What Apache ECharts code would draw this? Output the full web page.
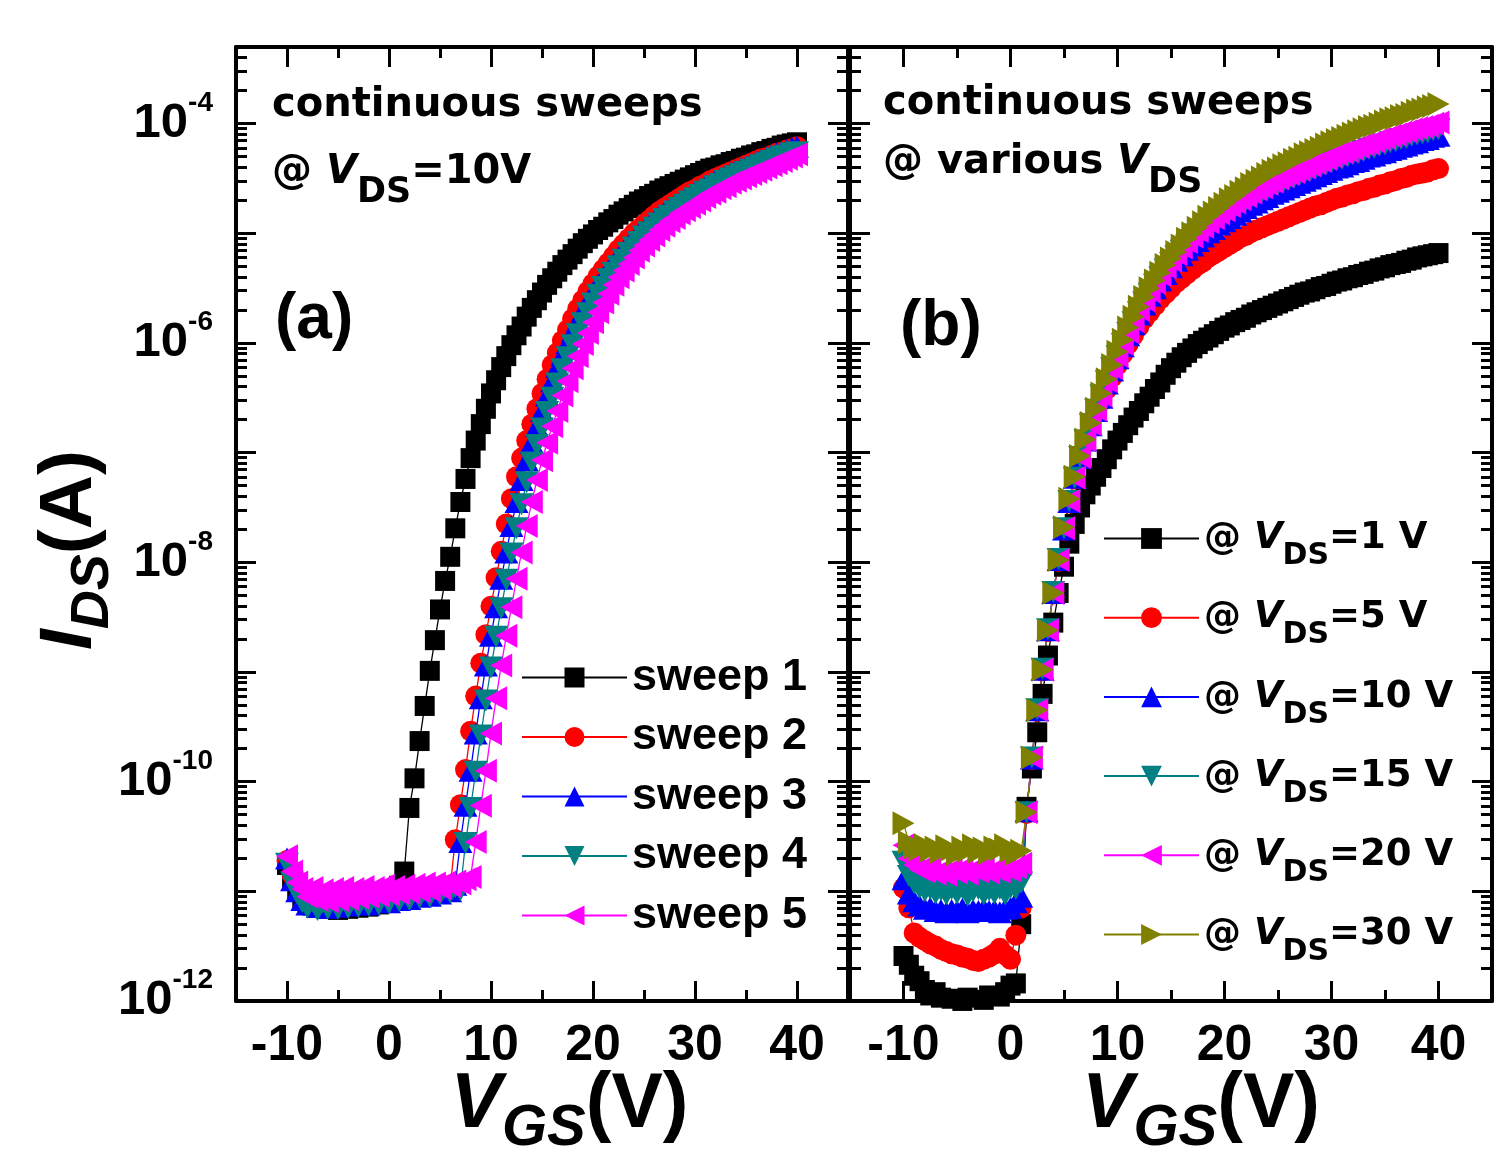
<!DOCTYPE html>
<html>
<head>
<meta charset="utf-8">
<script src="https://cdn.jsdelivr.net/npm/echarts@6/dist/echarts.min.js"></script>
<style>
html, body { margin: 0; padding: 0; background: #fff; }
#main { width: 1494px; height: 1153px; }
</style>
</head>
<body>
<div id="main"></div>
<script>
// gate voltage steps (V), shared by every sweep
var VGS = [
  -10, -9.5, -9, -8.5, -8, -7.5, -7, -6.5, -6, -5.5,
  -5, -4.5, -4, -3.5, -3, -2.5, -2, -1.5, -1, -0.5,
  0, 0.5, 1, 1.5, 2, 2.5, 3, 3.5, 4, 4.5,
  5, 5.5, 6, 6.5, 7, 7.5, 8, 8.5, 9, 9.5,
  10, 10.5, 11, 11.5, 12, 12.5, 13, 13.5, 14, 14.5,
  15, 15.5, 16, 16.5, 17, 17.5, 18, 18.5, 19, 19.5,
  20, 20.5, 21, 21.5, 22, 22.5, 23, 23.5, 24, 24.5,
  25, 25.5, 26, 26.5, 27, 27.5, 28, 28.5, 29, 29.5,
  30, 30.5, 31, 31.5, 32, 32.5, 33, 33.5, 34, 34.5,
  35, 35.5, 36, 36.5, 37, 37.5, 38, 38.5, 39, 39.5,
  40
];

// panel (a): log10(IDS / A), continuous sweeps at VDS = 10 V
var sweep1 = [
  -10.76, -10.90, -10.99, -11.06, -11.10, -11.13, -11.15, -11.14, -11.16, -11.15,
  -11.17, -11.14, -11.16, -11.13, -11.15, -11.12, -11.14, -11.11, -11.12, -11.09,
  -11.10, -11.06, -10.95, -10.82, -10.24, -9.97, -9.63, -9.31, -8.99, -8.71,
  -8.43, -8.17, -7.95, -7.69, -7.45, -7.24, -7.05, -6.89, -6.74, -6.60,
  -6.46, -6.34, -6.22, -6.12, -6.02, -5.93, -5.85, -5.76, -5.68, -5.61,
  -5.54, -5.47, -5.41, -5.35, -5.29, -5.24, -5.19, -5.14, -5.09, -5.05,
  -5.01, -4.97, -4.94, -4.90, -4.87, -4.83, -4.80, -4.77, -4.74, -4.71,
  -4.69, -4.66, -4.64, -4.61, -4.59, -4.57, -4.55, -4.53, -4.51, -4.49,
  -4.47, -4.45, -4.43, -4.41, -4.40, -4.38, -4.37, -4.35, -4.34, -4.32,
  -4.31, -4.29, -4.28, -4.26, -4.25, -4.23, -4.22, -4.20, -4.19, -4.18,
  -4.17
];
var sweep2 = [
  -10.72, -10.85, -10.93, -10.98, -11.04, -11.02, -11.08, -11.05, -11.10, -11.06,
  -11.09, -11.04, -11.10, -11.05, -11.08, -11.03, -11.07, -11.02, -11.06, -11.01,
  -11.05, -11.00, -11.04, -10.99, -11.03, -10.98, -11.02, -10.97, -11.01, -10.96,
  -11.00, -10.95, -10.96, -10.53, -10.21, -9.89, -9.54, -9.22, -8.92, -8.66,
  -8.40, -8.14, -7.90, -7.65, -7.42, -7.22, -7.05, -6.89, -6.74, -6.60,
  -6.46, -6.33, -6.20, -6.09, -5.98, -5.88, -5.78, -5.69, -5.61, -5.53,
  -5.46, -5.39, -5.33, -5.27, -5.21, -5.15, -5.10, -5.05, -5.00, -4.96,
  -4.92, -4.88, -4.84, -4.80, -4.77, -4.74, -4.71, -4.68, -4.65, -4.62,
  -4.60, -4.57, -4.55, -4.52, -4.50, -4.48, -4.46, -4.44, -4.42, -4.40,
  -4.38, -4.36, -4.34, -4.32, -4.31, -4.29, -4.27, -4.26, -4.24, -4.23,
  -4.21
];
var sweep3 = [
  -10.70, -10.90, -11.00, -11.08, -11.12, -11.06, -11.14, -11.08, -11.15, -11.07,
  -11.14, -11.06, -11.13, -11.05, -11.12, -11.04, -11.12, -11.03, -11.10, -11.02,
  -11.10, -11.01, -11.08, -11.00, -11.07, -10.99, -11.05, -10.98, -11.04, -10.97,
  -11.02, -10.96, -11.00, -10.94, -10.55, -10.22, -9.90, -9.56, -9.24, -8.94,
  -8.67, -8.41, -8.15, -7.91, -7.67, -7.45, -7.25, -7.07, -6.91, -6.76,
  -6.62, -6.48, -6.35, -6.22, -6.11, -6.00, -5.90, -5.80, -5.71, -5.62,
  -5.54, -5.47, -5.40, -5.34, -5.28, -5.22, -5.16, -5.11, -5.06, -5.01,
  -4.97, -4.93, -4.89, -4.85, -4.81, -4.78, -4.75, -4.72, -4.69, -4.66,
  -4.63, -4.60, -4.57, -4.55, -4.52, -4.50, -4.48, -4.45, -4.43, -4.41,
  -4.39, -4.37, -4.35, -4.33, -4.31, -4.29, -4.27, -4.26, -4.24, -4.22,
  -4.21
];
var sweep4 = [
  -10.75, -10.92, -11.02, -11.10, -11.15, -11.09, -11.17, -11.10, -11.16, -11.08,
  -11.16, -11.07, -11.15, -11.06, -11.14, -11.05, -11.13, -11.04, -11.12, -11.03,
  -11.11, -11.02, -11.09, -11.01, -11.08, -11.00, -11.06, -10.99, -11.05, -10.98,
  -11.03, -10.97, -11.01, -10.96, -10.99, -10.56, -10.24, -9.91, -9.58, -9.26,
  -8.96, -8.68, -8.42, -8.16, -7.92, -7.69, -7.47, -7.27, -7.09, -6.93,
  -6.78, -6.63, -6.50, -6.37, -6.24, -6.13, -6.02, -5.92, -5.82, -5.73,
  -5.64, -5.56, -5.49, -5.42, -5.36, -5.30, -5.24, -5.18, -5.13, -5.08,
  -5.03, -4.99, -4.95, -4.91, -4.87, -4.84, -4.80, -4.77, -4.74, -4.71,
  -4.68, -4.65, -4.62, -4.60, -4.57, -4.55, -4.52, -4.50, -4.48, -4.46,
  -4.44, -4.42, -4.40, -4.38, -4.36, -4.34, -4.32, -4.30, -4.29, -4.27,
  -4.26
];
var sweep5 = [
  -10.68, -10.82, -10.92, -10.98, -11.05, -10.97, -11.08, -10.99, -11.09, -10.98,
  -11.08, -10.97, -11.07, -10.98, -11.06, -10.96, -11.05, -10.97, -11.04, -10.95,
  -11.03, -10.96, -11.02, -10.95, -11.01, -10.94, -11.00, -10.93, -10.99, -10.93,
  -10.97, -10.92, -10.95, -10.91, -10.93, -10.89, -10.87, -10.55, -10.22, -9.90,
  -9.56, -9.24, -8.94, -8.67, -8.41, -8.15, -7.91, -7.67, -7.45, -7.25,
  -7.07, -6.91, -6.76, -6.62, -6.48, -6.35, -6.23, -6.12, -6.01, -5.91,
  -5.81, -5.72, -5.63, -5.55, -5.47, -5.40, -5.34, -5.28, -5.22, -5.16,
  -5.11, -5.06, -5.02, -4.97, -4.93, -4.89, -4.86, -4.82, -4.79, -4.76,
  -4.73, -4.70, -4.67, -4.64, -4.62, -4.59, -4.57, -4.54, -4.52, -4.50,
  -4.48, -4.46, -4.44, -4.42, -4.40, -4.38, -4.36, -4.34, -4.32, -4.30,
  -4.28
];

// panel (b): log10(IDS / A) at various VDS
var vds1 = [
  -11.59, -11.67, -11.77, -11.82, -11.90, -11.95, -11.92, -11.97, -12.02, -11.98,
  -12.05, -12.00, -11.97, -12.03, -12.06, -11.99, -11.95, -12.02, -11.96, -11.92,
  -11.86, -11.84, -11.30, -10.23, -9.88, -9.55, -9.20, -8.85, -8.55, -8.28,
  -8.04, -7.83, -7.65, -7.50, -7.38, -7.30, -7.22, -7.14, -7.06, -6.97,
  -6.89, -6.82, -6.75, -6.68, -6.62, -6.55, -6.49, -6.42, -6.36, -6.29,
  -6.23, -6.18, -6.13, -6.09, -6.05, -6.01, -5.98, -5.95, -5.92, -5.89,
  -5.86, -5.84, -5.81, -5.79, -5.77, -5.74, -5.72, -5.70, -5.68, -5.66,
  -5.64, -5.62, -5.60, -5.58, -5.56, -5.54, -5.53, -5.51, -5.49, -5.48,
  -5.46, -5.44, -5.43, -5.41, -5.40, -5.38, -5.37, -5.35, -5.34, -5.32,
  -5.31, -5.29, -5.28, -5.27, -5.25, -5.24, -5.22, -5.21, -5.20, -5.19,
  -5.18
];
var vds5 = [
  -10.97, -11.15, -11.38, -11.42, -11.45, -11.48, -11.50, -11.53, -11.55, -11.57,
  -11.58, -11.60, -11.61, -11.63, -11.64, -11.62, -11.60, -11.57, -11.52, -11.58,
  -11.62, -11.40, -11.15, -10.29, -9.80, -9.36, -8.99, -8.63, -8.29, -7.99,
  -7.71, -7.46, -7.24, -7.06, -6.91, -6.77, -6.64, -6.53, -6.42, -6.31,
  -6.20, -6.10, -6.01, -5.93, -5.85, -5.78, -5.72, -5.66, -5.60, -5.55,
  -5.50, -5.45, -5.41, -5.37, -5.33, -5.29, -5.26, -5.22, -5.19, -5.16,
  -5.13, -5.10, -5.07, -5.04, -5.02, -4.99, -4.97, -4.95, -4.93, -4.91,
  -4.89, -4.87, -4.85, -4.83, -4.81, -4.79, -4.77, -4.75, -4.74, -4.72,
  -4.70, -4.68, -4.67, -4.65, -4.64, -4.62, -4.61, -4.59, -4.58, -4.56,
  -4.55, -4.53, -4.52, -4.50, -4.49, -4.47, -4.46, -4.45, -4.44, -4.42,
  -4.41
];
var vds10 = [
  -10.89, -11.02, -11.09, -11.13, -11.16, -11.15, -11.18, -11.17, -11.19, -11.17,
  -11.18, -11.16, -11.19, -11.17, -11.18, -11.16, -11.18, -11.17, -11.19, -11.16,
  -11.15, -11.10, -11.05, -10.27, -9.79, -9.35, -8.98, -8.62, -8.28, -7.98,
  -7.70, -7.45, -7.23, -7.05, -6.89, -6.75, -6.62, -6.50, -6.37, -6.25,
  -6.14, -6.03, -5.93, -5.83, -5.74, -5.65, -5.57, -5.50, -5.43, -5.37,
  -5.31, -5.25, -5.20, -5.15, -5.11, -5.07, -5.03, -4.99, -4.96, -4.92,
  -4.89, -4.86, -4.83, -4.80, -4.77, -4.74, -4.72, -4.69, -4.67, -4.64,
  -4.62, -4.60, -4.58, -4.56, -4.54, -4.52, -4.50, -4.48, -4.46, -4.44,
  -4.42, -4.40, -4.39, -4.37, -4.35, -4.34, -4.32, -4.30, -4.29, -4.27,
  -4.26, -4.24, -4.23, -4.21, -4.20, -4.18, -4.17, -4.15, -4.14, -4.12,
  -4.11
];
var vds15 = [
  -10.73, -10.86, -10.93, -10.97, -11.00, -10.98, -11.02, -10.99, -11.03, -10.98,
  -11.02, -10.97, -11.04, -11.00, -10.98, -11.03, -10.99, -11.02, -10.98, -11.03,
  -10.97, -10.98, -10.92, -10.28, -9.78, -9.34, -8.97, -8.61, -8.27, -7.97,
  -7.69, -7.44, -7.23, -7.04, -6.89, -6.74, -6.61, -6.48, -6.35, -6.23,
  -6.12, -6.01, -5.91, -5.81, -5.72, -5.63, -5.55, -5.47, -5.40, -5.33,
  -5.27, -5.21, -5.16, -5.11, -5.06, -5.01, -4.97, -4.93, -4.89, -4.85,
  -4.82, -4.79, -4.76, -4.73, -4.70, -4.67, -4.65, -4.62, -4.60, -4.57,
  -4.55, -4.53, -4.51, -4.49, -4.47, -4.45, -4.43, -4.41, -4.39, -4.37,
  -4.35, -4.33, -4.32, -4.30, -4.28, -4.27, -4.25, -4.23, -4.22, -4.20,
  -4.19, -4.17, -4.16, -4.14, -4.13, -4.11, -4.10, -4.09, -4.08, -4.06,
  -4.05
];
var vds20 = [
  -10.58, -10.70, -10.76, -10.80, -10.82, -10.80, -10.84, -10.81, -10.85, -10.80,
  -10.83, -10.79, -10.84, -10.80, -10.82, -10.78, -10.83, -10.80, -10.82, -10.79,
  -10.81, -10.78, -10.75, -10.28, -9.78, -9.35, -8.98, -8.62, -8.28, -7.98,
  -7.69, -7.44, -7.23, -7.04, -6.89, -6.74, -6.61, -6.48, -6.35, -6.23,
  -6.12, -6.01, -5.90, -5.80, -5.70, -5.61, -5.53, -5.45, -5.38, -5.31,
  -5.25, -5.19, -5.13, -5.08, -5.03, -4.98, -4.94, -4.90, -4.86, -4.82,
  -4.79, -4.75, -4.72, -4.69, -4.66, -4.63, -4.60, -4.58, -4.55, -4.53,
  -4.50, -4.48, -4.46, -4.44, -4.42, -4.40, -4.38, -4.36, -4.34, -4.32,
  -4.30, -4.28, -4.26, -4.25, -4.23, -4.21, -4.19, -4.18, -4.16, -4.14,
  -4.13, -4.11, -4.10, -4.08, -4.07, -4.05, -4.04, -4.03, -4.02, -4.00,
  -3.99
];
var vds30 = [
  -10.38, -10.55, -10.60, -10.62, -10.58, -10.63, -10.60, -10.64, -10.59, -10.62,
  -10.66, -10.60, -10.63, -10.58, -10.64, -10.61, -10.65, -10.60, -10.62, -10.58,
  -10.63, -10.66, -10.63, -10.28, -9.78, -9.35, -8.98, -8.62, -8.28, -7.98,
  -7.68, -7.42, -7.22, -7.03, -6.88, -6.73, -6.60, -6.46, -6.33, -6.20,
  -6.08, -5.97, -5.86, -5.76, -5.67, -5.58, -5.50, -5.43, -5.36, -5.29,
  -5.23, -5.17, -5.11, -5.05, -5.00, -4.95, -4.90, -4.85, -4.81, -4.77,
  -4.73, -4.69, -4.66, -4.62, -4.59, -4.55, -4.52, -4.49, -4.46, -4.43,
  -4.41, -4.38, -4.36, -4.33, -4.31, -4.28, -4.26, -4.24, -4.22, -4.19,
  -4.17, -4.15, -4.13, -4.11, -4.09, -4.07, -4.05, -4.03, -4.02, -4.00,
  -3.98, -3.96, -3.95, -3.93, -3.92, -3.90, -3.88, -3.87, -3.85, -3.84,
  -3.82
];

var X_MAJOR = [-10, 0, 10, 20, 30, 40];
var X_MINOR = [-5, 5, 15, 25, 35];
var Y_LABELS = [1e-12, 1e-10, 1e-8, 1e-6, 1e-4];
var Y_MIN = 0.999e-12, Y_MAX = 5e-4;

// decade ticks and 2..9 minor ticks for the log axis
var Y_MAJOR = [], Y_MINOR = [];
for (var e = -12; e <= -4; e++) {
  Y_MAJOR.push(Math.pow(10, e));
  for (var k = 2; k <= 9; k++) {
    if (k * Math.pow(10, e) <= Y_MAX) Y_MINOR.push(k * Math.pow(10, e));
  }
}

var FONT_ARIAL = "'Liberation Sans', Arial, Helvetica, sans-serif";
var FONT_NARROW = "'Liberation Sans Narrow', 'Arial Narrow', 'Liberation Sans', Arial, sans-serif";
var FONT_DEJAVU = "'DejaVu Sans', Verdana, sans-serif";

var leftSeries = [
  { name: 'sweep 1', logs: sweep1, color: '#000000', symbol: 'rect', size: 20 },
  { name: 'sweep 2', logs: sweep2, color: '#ff0000', symbol: 'circle', size: 21 },
  { name: 'sweep 3', logs: sweep3, color: '#0000ff', symbol: 'triangle', size: [24, 22] },
  { name: 'sweep 4', logs: sweep4, color: '#008080', symbol: 'path://M0,0L10,0L5,10Z', size: [24, 22] },
  { name: 'sweep 5', logs: sweep5, color: '#ff00ff', symbol: 'path://M10,0L10,10L0,5Z', size: [22, 24] }
];
var rightSeries = [
  { name: 'VDS=1 V', logs: vds1, color: '#000000', symbol: 'rect', size: 20 },
  { name: 'VDS=5 V', logs: vds5, color: '#ff0000', symbol: 'circle', size: 21 },
  { name: 'VDS=10 V', logs: vds10, color: '#0000ff', symbol: 'triangle', size: [24, 22] },
  { name: 'VDS=15 V', logs: vds15, color: '#008080', symbol: 'path://M0,0L10,0L5,10Z', size: [24, 22] },
  { name: 'VDS=20 V', logs: vds20, color: '#ff00ff', symbol: 'path://M10,0L10,10L0,5Z', size: [22, 24] },
  { name: 'VDS=30 V', logs: vds30, color: '#808000', symbol: 'path://M0,0L10,5L0,10Z', size: [22, 24] }
];

function toPoints(logs) {
  return VGS.map(function (v, i) { return [v, Math.pow(10, logs[i])]; });
}

function makeSeries(def, axisIndex) {
  return {
    type: 'line',
    name: def.name,
    xAxisIndex: axisIndex,
    yAxisIndex: axisIndex,
    data: toPoints(def.logs),
    symbol: def.symbol,
    symbolSize: def.size,
    showAllSymbol: true,
    itemStyle: { color: def.color },
    lineStyle: { color: def.color, width: 1.3 },
    emphasis: { disabled: true },
    animation: false
  };
}

var axisLineStyle = { show: true, onZero: false, lineStyle: { color: '#000', width: 4 } };
function tickStyle(values, len) {
  return { show: true, inside: true, length: len, customValues: values, lineStyle: { color: '#000', width: 3 } };
}

var titleRich = {
  v: { fontFamily: FONT_ARIAL, fontWeight: 'bold', fontStyle: 'italic', fontSize: 77, color: '#000' },
  s: { fontFamily: FONT_ARIAL, fontWeight: 'bold', fontStyle: 'italic', fontSize: 58, color: '#000', padding: [47, 0, 0, 0] },
  p: { fontFamily: FONT_ARIAL, fontWeight: 'bold', fontSize: 77, color: '#000' }
};

function buildXAxes(gi, shift) {
  var base = { type: 'value', gridIndex: gi, min: -15, max: 45, splitLine: { show: false } };
  return [
    Object.assign({}, base, {
      position: 'bottom',
      axisLine: axisLineStyle,
      axisTick: tickStyle(X_MAJOR, 20),
      axisLabel: {
        show: true, customValues: X_MAJOR, margin: 20, color: '#000',
        fontFamily: FONT_ARIAL, fontWeight: 'bold', fontSize: 50
      },
      name: '{v|V}{s|GS}{p|(V)}',
      nameLocation: 'middle',
      nameGap: 52,
      nameMoveOverlap: false,
      nameTextStyle: { padding: [0, 0, 0, shift], rich: titleRich }
    }),
    Object.assign({}, base, {
      position: 'bottom', axisLine: { show: false, onZero: false },
      axisTick: tickStyle(X_MINOR, 11), axisLabel: { show: false }
    }),
    Object.assign({}, base, {
      position: 'top', axisLine: axisLineStyle,
      axisTick: tickStyle(X_MAJOR, 20), axisLabel: { show: false }
    }),
    Object.assign({}, base, {
      position: 'top', axisLine: { show: false, onZero: false },
      axisTick: tickStyle(X_MINOR, 11), axisLabel: { show: false }
    })
  ];
}

function buildYAxes(gi, withLabels) {
  var base = {
    type: 'log', logBase: 10, gridIndex: gi, min: Y_MIN, max: Y_MAX,
    splitLine: { show: false }, minorTick: { show: false }, minorSplitLine: { show: false }
  };
  var out = [];
  ['left', 'right'].forEach(function (pos) {
    var major = Object.assign({}, base, {
      position: pos, axisLine: axisLineStyle,
      axisTick: tickStyle(Y_MAJOR, 20), axisLabel: { show: false }
    });
    if (pos === 'left' && withLabels) {
      major.axisLabel = {
        show: true, customValues: Y_LABELS, margin: 23,
        formatter: function (v) { return '{b|10}{s|' + Math.round(Math.log10(v)) + '}'; },
        rich: {
          b: { fontFamily: FONT_NARROW, fontWeight: 'bold', fontSize: 49, color: '#000' },
          s: { fontFamily: FONT_NARROW, fontWeight: 'bold', fontSize: 28, color: '#000', padding: [0, 0, 41, 0] }
        }
      };
      major.name = '{v|I}{s|DS}{p|(A)}';
      major.nameLocation = 'middle';
      major.nameRotate = 90;
      major.nameGap = 116;
      major.nameMoveOverlap = false;
      major.nameTextStyle = {
        padding: [0, 52, 0, 0],
        rich: {
          v: { fontFamily: FONT_ARIAL, fontWeight: 'bold', fontStyle: 'italic', fontSize: 75, color: '#000' },
          s: { fontFamily: FONT_ARIAL, fontWeight: 'bold', fontStyle: 'italic', fontSize: 54, color: '#000', padding: [46, 0, 0, 0] },
          p: { fontFamily: FONT_ARIAL, fontWeight: 'bold', fontSize: 75, color: '#000' }
        }
      };
    }
    out.push(major);
    out.push(Object.assign({}, base, {
      position: pos, axisLine: { show: false, onZero: false },
      axisTick: tickStyle(Y_MINOR, 11), axisLabel: { show: false }
    }));
  });
  return out;
}

var annRich = {
  a: { fontFamily: FONT_DEJAVU, fontWeight: 'bold', fontSize: 40, fill: '#000' },
  v: { fontFamily: FONT_DEJAVU, fontWeight: 'bold', fontStyle: 'italic', fontSize: 40, fill: '#000' },
  s: { fontFamily: FONT_DEJAVU, fontWeight: 'bold', fontSize: 35, fill: '#000', padding: [39, 0, 0, 0] }
};
function plainText(x, y, text, family, size) {
  return {
    type: 'text', x: x, y: y, silent: true,
    style: { text: text, fontFamily: family, fontWeight: 'bold', fontSize: size, fill: '#000', verticalAlign: 'middle' }
  };
}
function richText(x, y, text) {
  return {
    type: 'text', x: x, y: y, silent: true,
    style: { text: text, rich: annRich, fill: '#000', verticalAlign: 'middle' }
  };
}

var series = [];
leftSeries.forEach(function (d) { series.push(makeSeries(d, 0)); });
rightSeries.forEach(function (d) { series.push(makeSeries(d, 4)); });

var myChart = echarts.init(document.getElementById('main'));
myChart.setOption({
  animation: false,
  backgroundColor: '#fff',
  grid: [
    { left: 236, top: 47, width: 612, height: 954, outerBoundsMode: 'none' },
    { left: 850, top: 47, width: 642, height: 954, outerBoundsMode: 'none' }
  ],
  xAxis: buildXAxes(0, 55).concat(buildXAxes(1, 60)),
  yAxis: buildYAxes(0, true).concat(buildYAxes(1, false)),
  legend: [
    {
      data: leftSeries.map(function (d) { return d.name; }),
      orient: 'vertical', left: 521, top: 655, padding: 0,
      itemWidth: 105, itemHeight: 25, itemGap: 14.5,
      selectedMode: false,
      textStyle: { fontFamily: FONT_ARIAL, fontWeight: 'bold', fontSize: 45, color: '#000' }
    },
    {
      data: rightSeries.map(function (d) { return d.name; }),
      orient: 'vertical', left: 1103, top: 520, padding: 0,
      itemWidth: 95, itemHeight: 26, itemGap: 27.7,
      selectedMode: false,
      formatter: function (name) { return '{a|@ }{v|V}{s|DS}{a|' + name.slice(3) + '}'; },
      textStyle: {
        color: '#000',
        rich: {
          a: { fontFamily: FONT_DEJAVU, fontWeight: 'bold', fontSize: 37, color: '#000' },
          v: { fontFamily: FONT_DEJAVU, fontWeight: 'bold', fontStyle: 'italic', fontSize: 37, color: '#000' },
          s: { fontFamily: FONT_DEJAVU, fontWeight: 'bold', fontSize: 30, color: '#000', padding: [36, 0, 0, 0] }
        }
      }
    }
  ],
  graphic: [
    plainText(272, 106, 'continuous sweeps', FONT_DEJAVU, 40),
    richText(272, 173, '{a|@ }{v|V}{s|DS}{a|=10V}'),
    plainText(275, 320, '(a)', FONT_ARIAL, 64),
    plainText(883, 104, 'continuous sweeps', FONT_DEJAVU, 40),
    richText(883, 163, '{a|@ various }{v|V}{s|DS}'),
    plainText(900, 327, '(b)', FONT_ARIAL, 64)
  ],
  series: series
});
</script>
</body>
</html>
